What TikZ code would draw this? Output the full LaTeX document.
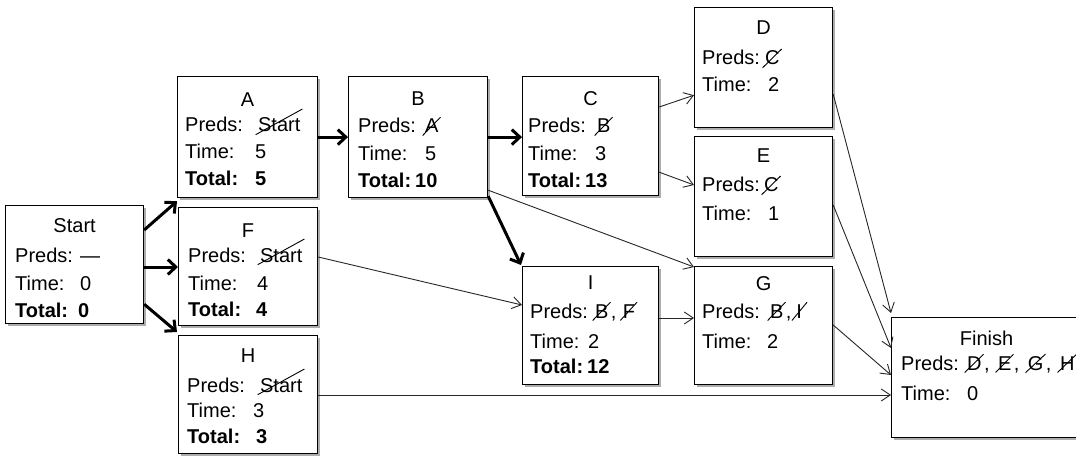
\documentclass[tikz,border=0pt]{standalone}
\usepackage{fontspec}
\setmainfont{Liberation Sans}
\usetikzlibrary{arrows.meta,shadows}
\newcommand\strk[2][2pt]{\tikz[baseline=(s.base)]{\node[inner sep=0pt,outer sep=0pt,anchor=base,draw=none,fill=none,rectangle,minimum width=0pt,minimum height=0pt](s){#2};\draw[line width=0.9pt,black,-] ([shift={(-2.5pt,-2.5pt)}]s.south west) -- ([shift={(2pt,#1)}]s.north east);}}
\newcommand\valat[3]{\makebox[#1pt][l]{#2}#3}
\newcommand\bx[5]{\node[box,minimum width=#4pt,minimum height=#5pt] (#1) at (#2,#3) {};}
\newcommand\ttitle[3]{\node[ttl] (#1-t) at ([shift={(0,#2)}]#1.north) {#3};}
\newcommand\tline[5]{\node[ln] (#1) at ([shift={(#3,#4)}]#2.north west) {#5};}
\begin{document}
\begin{tikzpicture}[x=1pt,y=-1pt,
 box/.style={draw=black,line width=1.2pt,fill=white,rectangle,inner sep=0pt,anchor=north west,
   drop shadow={shadow xshift=2.5pt,shadow yshift=-2.5pt,fill=black,opacity=0.32}},
 ttl/.style={anchor=base,inner sep=0pt,font=\fontsize{20}{24}\selectfont},
 ln/.style={anchor=base west,inner sep=0pt,font=\fontsize{20}{24}\selectfont},
 crit/.style={line width=3pt,black,-{Straight Barb[length=8pt,width=15pt]}},
 dep/.style={line width=0.9pt,black!85,-{Straight Barb[length=9pt,width=12pt]}}]
\useasboundingbox (0,0) rectangle (1076,457);

\bx{Start}{5}{205}{138}{118}
\bx{A}{177}{76}{140}{121}
\bx{B}{348}{76}{139}{121}
\bx{C}{522}{76}{136}{119}
\bx{D}{694}{7}{138}{120}
\bx{E}{694}{136}{138}{120}
\bx{F}{178}{207}{139}{118}
\bx{H}{178}{335}{139}{118}
\bx{I}{522}{266}{136}{118}
\bx{G}{694}{266}{138}{118}
\bx{Finish}{891}{317}{190}{120}

% Start
\ttitle{Start}{28}{Start}
\tline{Start-p}{Start}{10}{57}{\valat{65}{Preds:}{—}}
\tline{Start-m}{Start}{10}{85}{\valat{65}{Time:}{0}}
\tline{Start-o}{Start}{10}{112}{\bfseries\valat{63}{Total:}{0}}
% A
\ttitle{A}{31}{A}
\tline{A-p}{A}{8}{56}{\valat{70}{Preds:}{\strk[9pt]{Start}}}
\tline{A-m}{A}{8}{83}{\valat{70}{Time:}{5}}
\tline{A-o}{A}{8}{110}{\bfseries\valat{70}{Total:}{5}}
% B
\ttitle{B}{30}{B}
\tline{B-p}{B}{10}{57}{\valat{64}{Preds:}{\strk{A}}}
\tline{B-m}{B}{10}{85}{\valat{67}{Time:}{5}}
\tline{B-o}{B}{10}{112}{\bfseries\valat{57}{Total:}{10}}
% C
\ttitle{C}{30}{C}
\tline{C-p}{C}{6}{57}{\valat{66}{Preds:}{\strk{B}}}
\tline{C-m}{C}{6}{85}{\valat{67}{Time:}{3}}
\tline{C-o}{C}{6}{112}{\bfseries\valat{57}{Total:}{13}}
% D
\ttitle{D}{28}{D}
\tline{D-p}{D}{8}{58}{\valat{60}{Preds:}{\strk{C}}}
\tline{D-m}{D}{8}{85}{\valat{66}{Time:}{2}}
% E
\ttitle{E}{27}{E}
\tline{E-p}{E}{8}{56}{\valat{59}{Preds:}{\strk{C}}}
\tline{E-m}{E}{8}{85}{\valat{66}{Time:}{1}}
% F
\ttitle{F}{30}{F}
\tline{F-p}{F}{10}{55}{\valat{69}{Preds:}{\strk[9pt]{Start}}}
\tline{F-m}{F}{10}{83}{\valat{69}{Time:}{4}}
\tline{F-o}{F}{10}{109}{\bfseries\valat{68}{Total:}{4}}
% H
\ttitle{H}{27}{H}
\tline{H-p}{H}{9}{57}{\valat{70}{Preds:}{\strk[9pt]{Start}}}
\tline{H-m}{H}{9}{82}{\valat{66}{Time:}{3}}
\tline{H-o}{H}{9}{108}{\bfseries\valat{69}{Total:}{3}}
% I
\ttitle{I}{23}{I}
\tline{I-p}{I}{8}{52}{\valat{62}{Preds:}{\strk{B},\,\strk{F}}}
\tline{I-m}{I}{8}{82}{\valat{58}{Time:}{2}}
\tline{I-o}{I}{8}{107}{\bfseries\valat{57}{Total:}{12}}
% G
\ttitle{G}{24}{G}
\tline{G-p}{G}{8}{52}{\valat{65}{Preds:}{\strk{B},\strk{\kern2pt I\kern3pt}}}
\tline{G-m}{G}{8}{82}{\valat{65}{Time:}{2}}
% Finish
\ttitle{Finish}{28}{Finish}
\tline{Finish-p}{Finish}{10}{53}{\valat{63}{Preds:}{\strk{D}, \strk{E}, \strk{G}, \strk{H}}}
\tline{Finish-m}{Finish}{10}{83}{\valat{66}{Time:}{0}}

% critical arrows
\draw[crit] ([shift={(0,25)}]Start.north east) -- ([shift={(0,3)}]A.south west);
\draw[crit] ([shift={(0,62)}]Start.north east) -- ([shift={(0,60)}]F.north west);
\draw[crit] ([shift={(0,-20)}]Start.south east) -- ([shift={(-1,-3)}]H.north west);
\draw[crit] (A.east) -- (B.west);
\draw[crit] (B.east) -- (C.west |- B.east);
\draw[crit] ([shift={(0,-2)}]B.south east) -- ([shift={(-1,-1)}]I.north west);
% other arrows
\draw[dep] ([shift={(0,-8)}]B.south east) -- ([shift={(0,1)}]G.north west);
\draw[dep] ([shift={(0,31)}]C.north east) -- ([shift={(0,-33)}]D.south west);
\draw[dep] ([shift={(0,-24)}]C.south east) -- ([shift={(0,49)}]E.north west);
\draw[dep] ([shift={(0,50)}]F.north east) -- ([shift={(0,39)}]I.north west);
\draw[dep] ([shift={(0,52)}]I.north east) -- ([shift={(0,52)}]G.north west);
\draw[dep] ([shift={(0,60)}]H.north east) -- ([shift={(0,78)}]Finish.north west);
\draw[dep] ([shift={(0,-34)}]D.south east) -- ([shift={(0,-4)}]Finish.north west);
\draw[dep] ([shift={(0,69)}]E.north east) -- ([shift={(0,31)}]Finish.north west);
\draw[dep] ([shift={(0,59)}]G.north east) -- ([shift={(0,58)}]Finish.north west);
\end{tikzpicture}
\end{document}
